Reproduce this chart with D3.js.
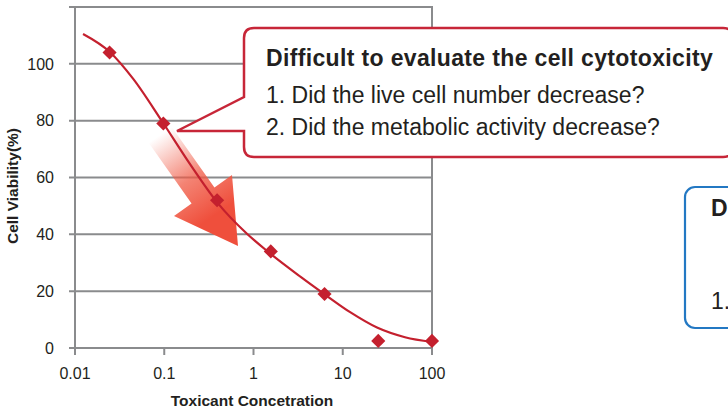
<!DOCTYPE html>
<html lang="en">
<head>
  <meta charset="UTF-8" />
  <title>Cell viability vs toxicant</title>
  <script src="https://cdn.jsdelivr.net/npm/d3@7"></script>
  <style type="text/css">
  body { margin: 0; background: #fff; }
  svg { display: block; font-family: "Liberation Sans", Arial, sans-serif; }
  .grid line { stroke: #8a8b8d; stroke-width: 2; }
  .tick-label { fill: #231f20; font-size: 16px; }
  .axis-title { fill: #231f20; font-size: 15.5px; font-weight: bold; }
  </style>
</head>
<body>
<script type="text/javascript">

// measured points
var doses = [0.0244, 0.0977, 0.391, 1.5625, 6.25, 25, 100];
var viability = [104, 79, 52, 34, 19, 2.5, 2.5];

// fitted curve
var fitDose = [0.0123, 0.0247, 0.0447, 0.0944, 0.1945, 0.4, 0.845, 1.49, 3.32, 6.01, 12.1, 24.2, 49.8, 100];
var fitViab = [110.5, 104.1, 94.8, 79.8, 64.7, 50.9, 40.2, 33.6, 25.2, 19.3, 12.6, 7.2, 3.8, 2.1];

var xTicks = [0.01, 0.1, 1, 10, 100];
var xTickLabels = ["0.01", "0.1", "1", "10", "100"];
var yGrid = [0, 20, 40, 60, 80, 100, 120];
var yTickLabels = [0, 20, 40, 60, 80, 100];

var calloutTitle = "Difficult to evaluate the cell cytotoxicity";
var calloutLines = ["1. Did the live cell number decrease?", "2. Did the metabolic activity decrease?"];

var W = 728, H = 412;
var red = "#c4202e";

var svg = d3.select("body").append("svg")
    .attr("width", W)
    .attr("height", H);

var x = d3.scaleLog().domain([0.01, 100]).range([75, 432]);
var y = d3.scaleLinear().domain([0, 120]).range([348, 7]);

// grid + frame
var grid = svg.append("g").attr("class", "grid");
grid.selectAll("line.h")
    .data(yGrid)
  .enter().append("line")
    .attr("class", "h")
    .attr("x1", 69).attr("x2", x(100) + 1)
    .attr("y1", d => y(d)).attr("y2", d => y(d));
grid.append("line")
    .attr("x1", x(0.01)).attr("x2", x(0.01))
    .attr("y1", y(120) - 1).attr("y2", y(0) + 7);
grid.append("line")
    .attr("x1", x(100)).attr("x2", x(100))
    .attr("y1", y(120) - 1).attr("y2", y(0) + 7);
grid.selectAll("line.xt")
    .data(xTicks)
  .enter().append("line")
    .attr("class", "xt")
    .attr("x1", d => x(d)).attr("x2", d => x(d))
    .attr("y1", y(0)).attr("y2", y(0) + 7);

// tick labels
svg.append("g").selectAll("text")
    .data(yTickLabels)
  .enter().append("text")
    .attr("class", "tick-label")
    .attr("x", 54)
    .attr("y", d => y(d))
    .attr("dy", "0.36em")
    .attr("text-anchor", "end")
    .text(d => d);

svg.append("g").selectAll("text")
    .data(xTicks)
  .enter().append("text")
    .attr("class", "tick-label")
    .attr("x", d => x(d))
    .attr("y", 379)
    .attr("text-anchor", "middle")
    .text((d, i) => xTickLabels[i]);

svg.append("text")
    .attr("class", "axis-title")
    .attr("x", 252).attr("y", 406)
    .attr("text-anchor", "middle")
    .text("Toxicant Concetration");

svg.append("text")
    .attr("class", "axis-title")
    .attr("transform", "translate(18,186) rotate(-90)")
    .attr("text-anchor", "middle")
    .text("Cell Viability(%)");

// gradient arrow
var defs = svg.append("defs");
var grad = defs.append("linearGradient")
    .attr("id", "arrowGrad")
    .attr("gradientUnits", "userSpaceOnUse")
    .attr("x1", 160).attr("y1", 135)
    .attr("x2", 215).attr("y2", 215);
grad.append("stop").attr("offset", 0).attr("stop-color", "#f05a45").attr("stop-opacity", 0);
grad.append("stop").attr("offset", 0.55).attr("stop-color", "#f05a45").attr("stop-opacity", 0.75);
grad.append("stop").attr("offset", 1).attr("stop-color", "#ef4f3c").attr("stop-opacity", 1);

var ux = 0.577, uy = 0.817;          // arrow direction
var px = 0.817, py = -0.577;         // perpendicular
var bx = 203, by = 195.5, sw = 14;   // head base centre, half shaft width
var tail = 78;
var tip = [238, 246];
var arrowPts = [
  [bx - ux * tail - px * sw, by - uy * tail - py * sw],
  [bx - px * sw, by - py * sw],
  [174, 216],
  tip,
  [232, 175],
  [bx + px * sw, by + py * sw],
  [bx - ux * tail + px * sw, by - uy * tail + py * sw]
];
svg.append("path")
    .attr("d", "M" + arrowPts.join("L") + "Z")
    .attr("fill", "url(#arrowGrad)");

// fitted curve
var line = d3.line()
    .x((d, i) => x(fitDose[i]))
    .y((d, i) => y(fitViab[i]))
    .curve(d3.curveMonotoneX);
svg.append("path")
    .attr("d", line(fitDose))
    .attr("fill", "none")
    .attr("stroke", red)
    .attr("stroke-width", 2.2);

// markers
svg.append("g").selectAll("path")
    .data(doses)
  .enter().append("path")
    .attr("transform", (d, i) => "translate(" + x(d) + "," + y(viability[i]) + ") rotate(45)")
    .attr("d", d3.symbol().type(d3.symbolSquare).size(100))
    .attr("fill", red);

// red callout (right side runs past the edge)
svg.append("path")
    .attr("d", "M254,28 H723 Q733,28 733,38 V147 Q733,157 723,157 H254 Q244,157 244,147 V131 H177 L244,97 V38 Q244,28 254,28 Z")
    .attr("fill", "#fff")
    .attr("stroke", "#c72638")
    .attr("stroke-width", 2.5);
svg.append("text")
    .attr("x", 266).attr("y", 66)
    .attr("fill", "#231f20")
    .attr("font-size", 23)
    .attr("font-weight", "bold")
    .attr("letter-spacing", 0.35)
    .text(calloutTitle);
svg.append("g").selectAll("text")
    .data(calloutLines)
  .enter().append("text")
    .attr("x", 266)
    .attr("y", (d, i) => 103 + i * 32)
    .attr("fill", "#231f20")
    .attr("font-size", 23)
    .text(d => d);

// blue box (cut off at the right)
svg.append("rect")
    .attr("x", 685).attr("y", 187)
    .attr("width", 80).attr("height", 141)
    .attr("rx", 10)
    .attr("fill", "#fff")
    .attr("stroke", "#2378c3")
    .attr("stroke-width", 2.2);
svg.append("text")
    .attr("x", 711).attr("y", 216)
    .attr("fill", "#231f20").attr("font-size", 23).attr("font-weight", "bold")
    .text("D");
svg.append("text")
    .attr("x", 711).attr("y", 309)
    .attr("fill", "#231f20").attr("font-size", 23)
    .text("1.");

</script>
</body>
</html>
